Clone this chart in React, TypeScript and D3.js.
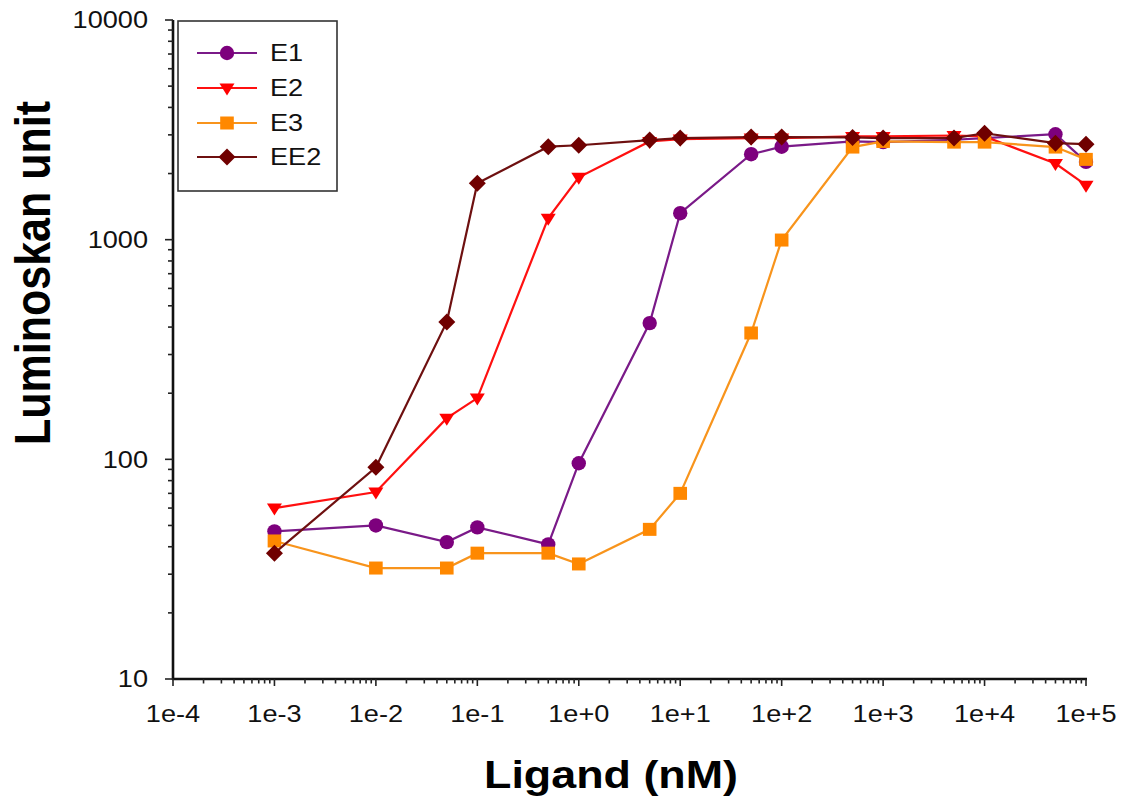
import React from "react";
import * as d3 from "d3";

const concentrations = [1e-3, 1e-2, 5e-2, 1e-1, 5e-1, 1, 5, 10, 50, 100, 500, 1000, 5000, 1e4, 5e4, 1e5];

const e1Values = [47, 50, 42, 49, 41, 96, 417, 1320, 2450, 2650, 2800, 2780, 2850, 2900, 3020, 2260];
const e2Values = [60, 71, 154, 190, 1253, 1923, 2800, 2870, 2900, 2900, 2950, 2950, 2980, 2950, 2220, 1770];
const e3Values = [42.5, 32, 32, 37.4, 37.4, 33.4, 48, 70, 376, 996, 2640, 2800, 2780, 2780, 2640, 2320];
const ee2Values = [37.4, 92, 422, 1807, 2650, 2690, 2840, 2900, 2930, 2930, 2920, 2900, 2900, 3050, 2750, 2720];

const seriesNames = ["E1", "E2", "E3", "EE2"];
const xTickLabels = ["1e-4", "1e-3", "1e-2", "1e-1", "1e+0", "1e+1", "1e+2", "1e+3", "1e+4", "1e+5"];
const yTickLabels = ["10", "100", "1000", "10000"];

const lineColors = ["#7a1a88", "#ff1010", "#f8941c", "#6e1010"];
const markerColors = ["#7d007d", "#ff0000", "#ff8800", "#700000"];
const markerShapes = ["circle", "triangleDown", "square", "diamond"];

const FONT = "'Liberation Sans', Arial, Helvetica, sans-serif";
const SX = 1.18;

function Marker({ shape, x, y, color }: { shape: string; x: number; y: number; color: string }) {
  if (shape === "circle") return <circle cx={x} cy={y} r={7.2} fill={color} />;
  if (shape === "square") return <rect x={x - 6.8} y={y - 6.5} width={13.6} height={13} fill={color} />;
  if (shape === "triangleDown")
    return <path d={`M${x - 7.5},${y - 4.5}L${x + 7.5},${y - 4.5}L${x},${y + 7.5}Z`} fill={color} />;
  return <path d={`M${x},${y - 8.5}L${x + 8.5},${y}L${x},${y + 8.5}L${x - 8.5},${y}Z`} fill={color} />;
}

export default function App() {
  const x = d3.scaleLog().domain([1e-4, 1e5]).range([173, 1086]);
  const y = d3.scaleLog().domain([10, 10000]).range([679, 20]);
  const allSeries = [e1Values, e2Values, e3Values, ee2Values];
  const line = d3
    .line<number>()
    .x((_, i) => x(concentrations[i]))
    .y((v) => y(v));

  const isMajor = (t: number) => Math.abs(Math.log10(t) - Math.round(Math.log10(t))) < 1e-9;
  const xTicks = x.ticks();
  const yTicks = y.ticks();
  const xMajors = xTicks.filter(isMajor);
  const yMajors = yTicks.filter(isMajor);

  const legendY = [53, 88, 123, 157];

  return (
    <div style={{ position: "absolute", left: 0, top: 0 }}>
      <svg width={1123} height={810} style={{ display: "block", background: "#fff" }} fontFamily={FONT}>
        {/* series */}
        {allSeries.map((vals, s) => (
          <g key={s}>
            <path d={line(vals) || ""} fill="none" stroke={lineColors[s]} strokeWidth={2.2} />
            {vals.map((v, i) => (
              <Marker key={i} shape={markerShapes[s]} x={x(concentrations[i])} y={y(v)} color={markerColors[s]} />
            ))}
          </g>
        ))}

        {/* axes */}
        <line x1={173} x2={173} y1={y(10000)} y2={y(10) + 1} stroke="#111" strokeWidth={2.6} />
        <line x1={172} x2={x(1e5) + 1} y1={679} y2={679} stroke="#111" strokeWidth={2.6} />
        {xTicks.map((t, i) => (
          <line key={i} x1={x(t)} x2={x(t)} y1={679} y2={679 + (isMajor(t) ? 7 : 4.5)} stroke="#222" strokeWidth={1.6} />
        ))}
        {yTicks.map((t, i) => (
          <line key={i} x1={173} x2={173 - (isMajor(t) ? 8 : 5)} y1={y(t)} y2={y(t)} stroke="#222" strokeWidth={1.6} />
        ))}
        {xMajors.map((t, i) => (
          <text key={i} transform={`translate(${x(t)},722) scale(${SX},1)`} textAnchor="middle" fontSize={23} fill="#111">
            {xTickLabels[i]}
          </text>
        ))}
        {yMajors.map((t, i) => (
          <text key={i} transform={`translate(148,${y(t)}) scale(${SX},1)`} textAnchor="end" dy="0.36em" fontSize={23} fill="#111">
            {yTickLabels[i]}
          </text>
        ))}

        {/* titles */}
        <text transform={`translate(611,788) scale(${SX},1)`} textAnchor="middle" fontSize={38} fontWeight="bold" fill="#000">
          Ligand (nM)
        </text>
        <text transform={`translate(50,273) scale(${SX},1) rotate(-90)`} textAnchor="middle" fontSize={43} fontWeight="bold" fill="#000">
          Luminoskan unit
        </text>

        {/* legend */}
        <rect x={178} y={21} width={159} height={170} fill="#fff" stroke="#333" strokeWidth={1.6} />
        {seriesNames.map((name, s) => (
          <g key={name}>
            <line x1={197} x2={257} y1={legendY[s]} y2={legendY[s]} stroke={lineColors[s]} strokeWidth={2.2} />
            <Marker shape={markerShapes[s]} x={227} y={legendY[s]} color={markerColors[s]} />
            <text transform={`translate(270,${legendY[s]}) scale(${SX},1)`} dy="0.36em" fontSize={23} fill="#111">
              {name}
            </text>
          </g>
        ))}
      </svg>
    </div>
  );
}
